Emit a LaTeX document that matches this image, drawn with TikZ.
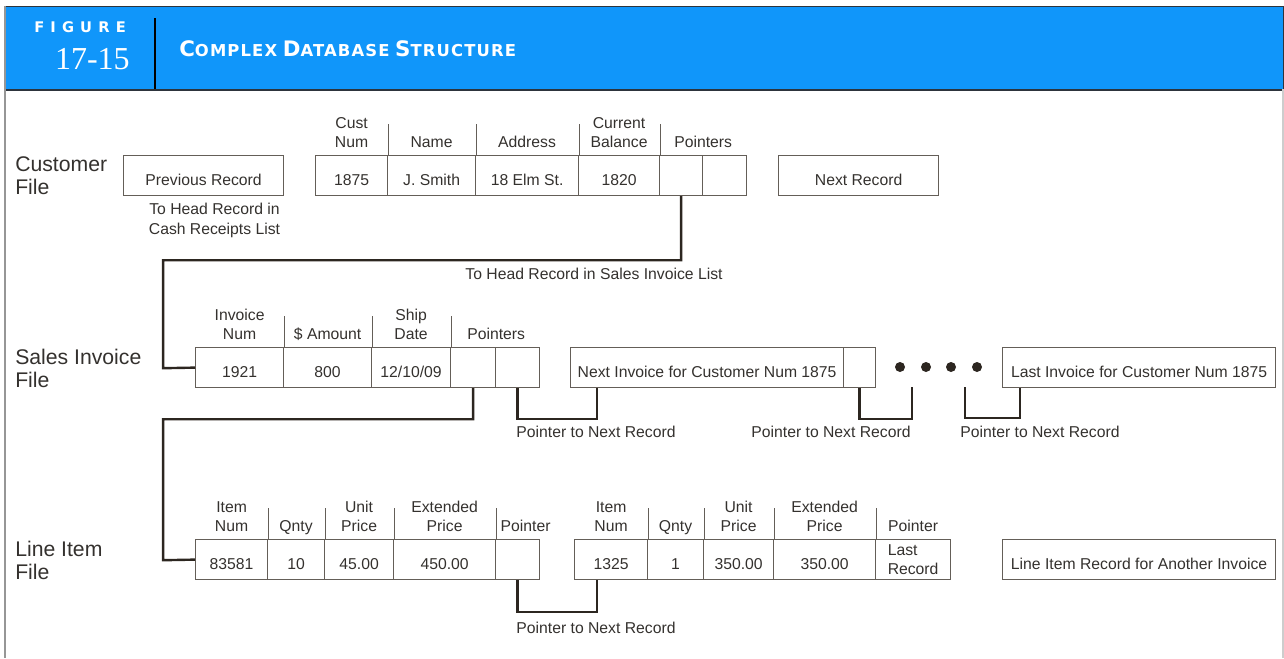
\documentclass[tikz,border=0pt]{standalone}
\usepackage{fontspec}
\setmainfont{Liberation Sans}
\newfontfamily\numfont{Liberation Serif}
\newfontfamily\trackfont{DejaVu Sans}[LetterSpace=42]
\newfontfamily\titlefont{DejaVu Sans}[LetterSpace=7]
\usetikzlibrary{calc}

\definecolor{bannerblue}{RGB}{16,150,250}
\definecolor{bannerdark}{RGB}{45,52,60}
\definecolor{ink}{RGB}{52,49,46}
\definecolor{boxline}{RGB}{100,94,88}
\definecolor{wire}{RGB}{44,38,32}
\definecolor{pagerule}{RGB}{150,150,150}
\definecolor{pagelight}{RGB}{205,205,205}

% one field of a record: [options]{name}{left}{right}{top}{text}
\newcommand{\field}[6][]{%
  \node[cell,minimum width={(#4-#3)*0.75pt},#1] (#2) at (#3,#5) {#6};}
% multi-line text whose baseline is that of its last line
\newcommand{\stack}[2][c]{\begin{tabular}[b]{@{}#1@{}}#2\end{tabular}}
% small-caps title pieces
\newcommand{\tcap}[1]{{\fontsize{16}{16}\selectfont #1}}
\newcommand{\tsc}[1]{{\fontsize{12.3}{12.3}\selectfont #1}}

\begin{document}
\begin{tikzpicture}[x=0.75pt,y=-0.75pt,
  font=\fontsize{11.8}{14.6}\selectfont, text=ink,
  cell/.style={draw=boxline,line width=0.9pt,inner sep=0pt,anchor=north west,
    minimum height=30pt,text height=22.5pt,text depth=7.5pt},
  hdr/.style={anchor=base,inner sep=0pt},
  hdrrule/.style={draw=boxline,line width=0.9pt},
  wire/.style={draw=wire,line width=1.8pt,line join=miter},
  note/.style={anchor=base,inner sep=0pt},
  filelbl/.style={anchor=base west,inner sep=0pt,font=\fontsize{15.9}{16.8}\selectfont},
  dot/.style={circle,fill=wire,inner sep=0pt,minimum size=7.5pt},
]
\useasboundingbox (0,0) rectangle (1284,658);

% ---------- title banner ----------
\node[fill=bannerblue,draw=bannerdark,line width=0.8pt,inner sep=0pt,anchor=north west,
      minimum width=958.5pt,minimum height=62.25pt] (banner) at (5,6) {};
\draw[bannerdark,line width=1.6pt] (banner.south west) -- (banner.south east);
\draw[black,line width=1.3pt] (155,18) -- (155,89);
\node[anchor=base west,inner sep=0pt,text=white,font=\trackfont\bfseries\fontsize{11}{11}\selectfont]
  (figword) at (34,32) {FIGURE};
\node[anchor=base east,inner sep=0pt,text=white,font=\numfont\fontsize{24}{24}\selectfont]
  (fignum) at (130,69) {17-15};
\node[anchor=base west,inner sep=0pt,text=white,font=\titlefont\bfseries]
  (figtitle) at (179,56)
  {\tcap{C}\tsc{OMPLEX} \tcap{D}\tsc{ATABASE} \tcap{S}\tsc{TRUCTURE}};

% page rules
\draw[pagerule,line width=1.3pt] (5,6) -- (5,658);
\draw[pagelight,line width=0.8pt] (1283,89) -- (1283,658);

% ---------- customer file ----------
\node[filelbl] (custlbl) at (15,194) {\stack[l]{Customer\\File}};
\field{prev}{123}{283}{155}{Previous Record}
\field{cnum}{315}{387}{155}{1875}
\field{cname}{387}{475}{155}{J. Smith}
\field{caddr}{475}{578}{155}{18 Elm St.}
\field{cbal}{578}{659}{155}{1820}
\field{cptra}{659}{702}{155}{}
\field{cptrb}{702}{746}{155}{}
\field{cnext}{778}{938}{155}{Next Record}

\foreach \c in {cnum,cname,caddr,cbal}
  \draw[hdrrule] (\c.north east) -- ++(0,-31);
\node[hdr] (hcnum) at ($(cnum.north)+(0,-7.5)$) {\stack{Cust\\Num}};
\node[hdr] (hcname) at ($(cname.north)+(0,-7.5)$) {Name};
\node[hdr] (hcaddr) at ($(caddr.north)+(0,-7.5)$) {Address};
\node[hdr] (hcbal) at ($(cbal.north)+(0,-7.5)$) {\stack{Current\\Balance}};
\node[hdr] (hcptr) at ($(cptra.north east)+(0,-7.5)$) {Pointers};

\node[note] (cashnote) at (214.5,234) {\stack{To Head Record in\\Cash Receipts List}};

% ---------- sales invoice file ----------
\node[filelbl] (saleslbl) at (15,387) {\stack[l]{Sales Invoice\\File}};
\field{snum}{195}{283}{347}{1921}
\field{samt}{283}{371}{347}{800}
\field{sdate}{371}{450}{347}{12/10/09}
\field{sptra}{450}{495}{347}{}
\field{sptrb}{495}{539}{347}{}
\field{nextinv}{570}{843}{347}{Next Invoice for Customer Num 1875}
\field{nextptr}{843}{875}{347}{}
\field{lastinv}{1002}{1275}{347}{Last Invoice for Customer Num 1875}

\foreach \c in {snum,samt,sdate}
  \draw[hdrrule] (\c.north east) -- ++(0,-31);
\node[hdr] (hsnum) at ($(snum.north)+(0,-7.5)$) {\stack{Invoice\\Num}};
\node[hdr] (hsamt) at ($(samt.north)+(0,-7.5)$) {\$ Amount};
\node[hdr] (hsdate) at ($(sdate.north)+(0,-7.5)$) {\stack{Ship\\Date}};
\node[hdr] (hsptr) at ($(sptra.north east)+(0,-7.5)$) {Pointers};

\node[dot] (dota) at (900,367) {};
\node[dot] (dotb) at (926,367) {};
\node[dot] (dotc) at (951,367) {};
\node[dot] (dotd) at (977,367) {};
\coordinate (gapin) at (912,387);
\coordinate (gapout) at (965,387);

% ---------- line item file ----------
\node[filelbl] (linelbl) at (15,579) {\stack[l]{Line Item\\File}};
\field{lanum}{195}{267}{539}{83581}
\field{laqty}{267}{324}{539}{10}
\field{launit}{324}{393}{539}{45.00}
\field{laext}{393}{495}{539}{450.00}
\field{laptr}{495}{539}{539}{}
\field{lbnum}{574}{647}{539}{1325}
\field{lbqty}{647}{703}{539}{1}
\field{lbunit}{703}{773}{539}{350.00}
\field{lbext}{773}{875}{539}{350.00}
\field[text height=26.25pt,text depth=3.75pt]{lbptr}{875}{950}{539}{\stack[l]{Last\\Record}}
\field{other}{1002}{1275}{539}{Line Item Record for Another Invoice}

\foreach \c in {lanum,laqty,launit,laext,lbnum,lbqty,lbunit,lbext}
  \draw[hdrrule] (\c.north east) -- ++(0,-31);
\foreach \r in {la,lb}{
  \node[hdr] (h\r num) at ($(\r num.north)+(0,-7.5)$) {\stack{Item\\Num}};
  \node[hdr] (h\r qty) at ($(\r qty.north)+(0,-7.5)$) {Qnty};
  \node[hdr] (h\r unit) at ($(\r unit.north)+(0,-7.5)$) {\stack{Unit\\Price}};
  \node[hdr] (h\r ext) at ($(\r ext.north)+(0,-7.5)$) {\stack{Extended\\Price}};
}
\node[hdr] (hlaptr) at ($(laptr.north)+(8,-7.5)$) {Pointer};
\node[hdr] (hlbptr) at ($(lbptr.north)+(0,-7.5)$) {Pointer};

% ---------- pointer chains ----------
\draw[wire] (cptra.south) -- ++(0,64) -| ++(-518,108) -- (snum.west);
\node[note] (salesnote) at (594,279) {To Head Record in Sales Invoice List};

\draw[wire] (sptra.south) -- ++(0,31) -| ++(-310,141) -- (lanum.west);

\draw[wire] (sptrb.south) -- ++(0,31) -| ($(nextinv.south west)+(27,0)$);
\draw[wire] (nextptr.south) -- ++(0,31) -| (gapin);
\draw[wire] (gapout) -- ++(0,31) -| ($(lastinv.south west)+(18,0)$);
\node[note] (ptra) at (596,437) {Pointer to Next Record};
\node[note] (ptrb) at (831,437) {Pointer to Next Record};
\node[note] (ptrc) at (1040,437) {Pointer to Next Record};

\draw[wire] (laptr.south) -- ++(0,32) -| ($(lbnum.south west)+(23,0)$);
\node[note] (ptrd) at (596,633) {Pointer to Next Record};

\end{tikzpicture}
\end{document}
